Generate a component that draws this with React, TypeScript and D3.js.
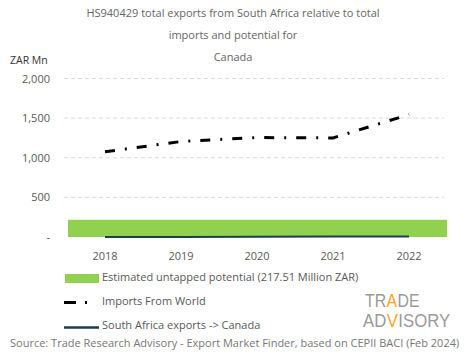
import * as d3 from 'd3';

const years = ['2018', '2019', '2020', '2021', '2022'];
const importsWorld = [1075, 1205, 1255, 1250, 1545];
const saExports = [1, 1, 2, 5, 5];
const untapped = 217.51;
const yTicks = [0, 500, 1000, 1500, 2000];
const titleLines = [
  'HS940429 total exports from South Africa relative to total',
  'imports and potential for',
  'Canada',
];

const W = 465;
const H = 359;
const FONT = '"Open Sans", "DejaVu Sans", sans-serif';
const LOGO_FONT = '"Liberation Sans", Arial, sans-serif';

// logo pieces: text, offset inside row (unscaled), accent
const logoTop: [string, number, boolean][] = [
  ['TR', 0, false],
  ['A', 24.5, true],
  ['DE', 37, false],
];
const logoBottom: [string, number, boolean][] = [
  ['AD', 0, false],
  ['V', 25.5, true],
  ['ISORY', 38, false],
];

export default function App() {
  const x = d3.scaleBand<string>().domain(years).range([67, 447]);
  const y = d3.scaleLinear().domain([0, 2000]).range([237, 78.5]);
  const cx = (d: string) => (x(d) ?? 0) + x.bandwidth() / 2;

  const line = d3.line<number>()
    .x((_, i) => cx(years[i]))
    .y(d => y(d));

  const fmt = (v: number) => (v === 0 ? '-' : d3.format(',')(v));

  const logoRow = (parts: [string, number, boolean][], tx: number, ty: number, sx: number) => (
    <g transform={`translate(${tx},${ty}) scale(${sx},1)`}>
      {parts.map(([t, ox, accent]) => (
        <text
          key={t}
          x={ox}
          y={0}
          fontSize={18}
          fontFamily={LOGO_FONT}
          fill={accent ? '#f5a623' : '#9a9a9a'}
        >
          {t}
        </text>
      ))}
    </g>
  );

  return (
    <svg
      width={W}
      height={H}
      style={{ position: 'absolute', left: 0, top: 0, background: '#fff' }}
      fontFamily={FONT}
    >
      {titleLines.map((t, i) => (
        <text key={t} x={233} y={17 + i * 22} textAnchor="middle" fontSize={11} fill="#666">
          {t}
        </text>
      ))}

      <text x={10} y={64} fontSize={10.5} fill="#333">ZAR Mn</text>

      {/* grid + y ticks */}
      {yTicks.map(t => (
        <g key={t}>
          {t > 0 && (
            <line x1={64} x2={444} y1={y(t)} y2={y(t)} stroke="#d0d0d0" strokeDasharray="4,3" strokeWidth={0.8} />
          )}
          <text x={50} y={y(t) + 4} textAnchor="end" fontSize={11} fill="#595959">{fmt(t)}</text>
        </g>
      ))}

      {/* untapped potential */}
      <rect
        x={x.range()[0] + 1}
        y={y(untapped)}
        width={x.range()[1] - x.range()[0] - 1}
        height={y(0) - y(untapped)}
        fill="#92d050"
      />

      {/* SA exports */}
      <path d={line(saExports) ?? ''} fill="none" stroke="#1c3f50" strokeWidth={2} />

      {/* imports from world */}
      <path
        d={line(importsWorld) ?? ''}
        fill="none"
        stroke="#000"
        strokeWidth={3}
        strokeDasharray="10,10,2,10"
      />

      {years.map(d => (
        <text key={d} x={cx(d)} y={260} textAnchor="middle" fontSize={11} fill="#595959">{d}</text>
      ))}

      {/* legend */}
      <rect x={65} y={274} width={34} height={9} fill="#92d050" />
      <text x={102} y={281} fontSize={11} fill="#595959">Estimated untapped potential (217.51 Million ZAR)</text>

      <line x1={64} x2={76} y1={302.5} y2={302.5} stroke="#000" strokeWidth={3} />
      <line x1={85} x2={87} y1={302.5} y2={302.5} stroke="#000" strokeWidth={3} />
      <text x={102} y={305} fontSize={11} fill="#595959">Imports From World</text>

      <line x1={64} x2={99} y1={327.5} y2={327.5} stroke="#1c3f50" strokeWidth={2.5} />
      <text x={102} y={329} fontSize={11} fill="#595959">South Africa exports -&gt; Canada</text>

      <text x={10} y={347} fontSize={11} fill="#777">
        Source: Trade Research Advisory - Export Market Finder, based on CEPII BACI (Feb 2024)
      </text>

      {/* logo */}
      {logoRow(logoTop, 365, 306.5, 0.88)}
      {logoRow(logoBottom, 363, 327, 0.93)}
    </svg>
  );
}
